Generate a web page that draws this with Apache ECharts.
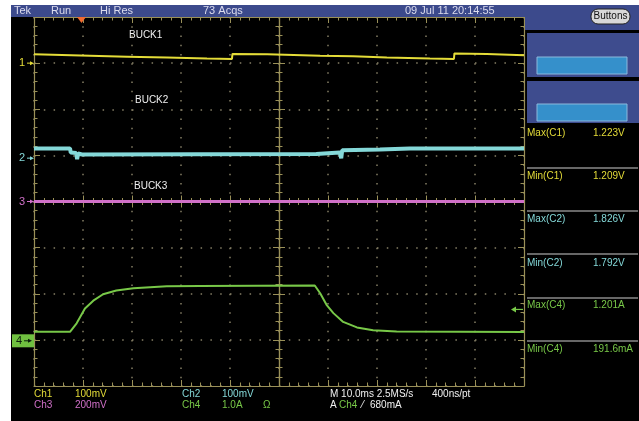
<!DOCTYPE html>
<html><head><meta charset="utf-8">
<script src="https://cdn.jsdelivr.net/npm/echarts@6.0.0/dist/echarts.min.js"></script>
<style>
html,body{margin:0;padding:0;background:#fff;}
#bg{position:absolute;left:11px;top:5px;width:628px;height:416px;background:#000;}
#c{position:absolute;left:0;top:0;width:639px;height:421px;}
</style></head><body>
<div id="bg"></div><div id="c"></div>
<script>
// ---- time base: ms, 10 ms/div, centre = 0
const timeMin = -50, timeMax = 50, timeDiv = 10;
const divMin = -4, divMax = 4;

// ---- channel settings (vertical position in div, offset, units per div)
const ch1Set = {pos: 3.0, offset: 1.2, scale: 0.1};
const ch2Set = {pos: 0.94, offset: 1.8, scale: 0.1};
const ch3Set = {pos: 0.0, offset: 0.0, scale: 0.2};
const ch4Set = {pos: -3.02, offset: 0.0, scale: 1.0};

// ---- Ch1 (BUCK1), volts
const ch1Time = [-50, -31, -22.9, -14.7, -9.6, -9.5, -2.4, 8.4, 15.1, 22.0, 30.8, 35.7, 35.8, 42.4, 50];
const ch1Volt = [1.219, 1.214, 1.212, 1.210, 1.209, 1.220, 1.219, 1.216, 1.215, 1.212, 1.210, 1.209, 1.221, 1.220, 1.217];

// ---- Ch2 (BUCK2), volts
const ch2Time = [-50, -42.65, -42.5, -41.4, -41.2, -41.0, -40.2, 7.6, 7.8, 12.4, 12.7, 12.9, 20.6, 26.7, 50];
const ch2Volt = [1.821, 1.821, 1.812, 1.811, 1.798, 1.810, 1.808, 1.809, 1.812, 1.812, 1.800, 1.817, 1.819, 1.821, 1.821];

// ---- Ch3 (BUCK3), volts relative to offset
const ch3Time = [-50, 50];
const ch3Volt = [0, 0];

// ---- Ch4 (load current), amps
const ch4Time = [-50, -42.65, -41.3, -39.6, -37.9, -35.9, -33.2, -29.7, -26.3, -22.9, -16.1, 7.3, 8.4, 9.7, 11.1, 13.1, 15.9, 19.2, 24.0, 50];
const ch4Amp  = [0.195, 0.195, 0.38, 0.70, 0.87, 1.01, 1.09, 1.14, 1.16, 1.18, 1.19, 1.20, 1.03, 0.78, 0.60, 0.41, 0.29, 0.23, 0.20, 0.192];

// ---- trigger
const triggerTime = -40.3;   // ms
const triggerLevel = 0.68;   // A on Ch4

// ---- texts
const headerTexts = ['Tek', 'Run', 'Hi Res', '73 Acqs', '09 Jul 11 20:14:55'];
const traceLabels = ['BUCK1', 'BUCK2', 'BUCK3'];
const measureLabels = ['Max(C1)', 'Min(C1)', 'Max(C2)', 'Min(C2)', 'Max(C4)', 'Min(C4)'];
const measureValues = ['1.223V', '1.209V', '1.826V', '1.792V', '1.201A', '191.6mA'];
const readRow1 = ['Ch1', '100mV', 'Ch2', '100mV', 'M 10.0ms 2.5MS/s', '400ns/pt'];
const readRow2 = ['Ch3', '200mV', 'Ch4', '1.0A', 'Ω', 'A', 'Ch4', '⁄', '680mA'];

// ---- colours
const C1 = '#e4dc38', C2 = '#84d8d8', C3 = '#d070c8', C4 = '#78c848';
const TAN = '#9a9058', DOT = '#857f66', FONT = 'Liberation Sans';

function toDiv(set, v) { return set.pos + (v - set.offset) / set.scale; }
function pts(t, v, set) { return t.map((x, i) => [x, toDiv(set, v[i])]); }

const chart = echarts.init(document.getElementById('c'), null, {renderer: 'canvas'});

const tickStyle = {show: true, inside: true, length: 6, lineStyle: {color: TAN, width: 1}};
const minorStyle = {show: true, splitNumber: 5, length: 3.5, lineStyle: {color: TAN, width: 1}};
const lineStyle = {show: true, onZero: false, lineStyle: {color: TAN, width: 1.2}};

function xAx(grid, pos, extra) {
  return Object.assign({type: 'value', gridIndex: grid, position: pos, min: timeMin, max: timeMax, interval: timeDiv,
    axisLine: lineStyle, axisTick: tickStyle, minorTick: minorStyle, axisLabel: {show: false}, splitLine: {show: false}}, extra || {});
}
function yAx(grid, pos, extra) {
  return Object.assign({type: 'value', gridIndex: grid, position: pos, min: divMin, max: divMax, interval: 1,
    axisLine: lineStyle, axisTick: tickStyle, minorTick: minorStyle, axisLabel: {show: false}, splitLine: {show: false}}, extra || {});
}

const G = {left: 34, top: 17, width: 490, height: 369};
const option = {
  animation: false,
  backgroundColor: 'transparent',
  grid: [
    {left: G.left, top: G.top, width: G.width, height: G.height},
    {left: G.left, top: G.top, width: G.width, height: G.height / 2},
    {left: G.left, top: G.top + G.height / 2, width: G.width, height: G.height / 2},
    {left: G.left, top: G.top, width: G.width / 2, height: G.height},
    {left: G.left + G.width / 2, top: G.top, width: G.width / 2, height: G.height}
  ],
  xAxis: [
    xAx(0, 'bottom', {splitLine: {show: true, lineStyle: {color: DOT, width: 1.5, type: [1.5, 7.725]}}}),
    xAx(0, 'top'),
    xAx(1, 'bottom'),
    xAx(2, 'top'),
    xAx(3, 'bottom', {show: false, min: timeMin, max: 0}),
    xAx(4, 'bottom', {show: false, min: 0, max: timeMax})
  ],
  yAxis: [
    yAx(0, 'left', {splitLine: {show: true, lineStyle: {color: DOT, width: 1.5, type: [1.5, 8.3]}}}),
    yAx(0, 'right'),
    yAx(1, 'left', {show: false, min: 0, max: divMax}),
    yAx(2, 'left', {show: false, min: divMin, max: 0}),
    yAx(3, 'right'),
    yAx(4, 'left')
  ],
  series: [
    {type: 'line', xAxisIndex: 0, yAxisIndex: 0, data: pts(ch3Time, ch3Volt, ch3Set), showSymbol: false, lineStyle: {color: C3, width: 3}, z: 3},
    {type: 'line', xAxisIndex: 0, yAxisIndex: 0, data: pts(ch1Time, ch1Volt, ch1Set), showSymbol: false, lineStyle: {color: C1, width: 2}, z: 4},
    {type: 'line', xAxisIndex: 0, yAxisIndex: 0, data: pts(ch2Time, ch2Volt, ch2Set), showSymbol: false, lineStyle: {color: C2, width: 4}, z: 4},
    {type: 'line', xAxisIndex: 0, yAxisIndex: 0, data: pts(ch4Time, ch4Amp, ch4Set), showSymbol: false, lineStyle: {color: C4, width: 2}, z: 5}
  ]
};
chart.setOption(option);

function px(t, d) { return chart.convertToPixel({gridIndex: 0}, [t, d]); }
function txt(x, y, s, color, size, align) {
  return {type: 'text', x: x, y: y, silent: true, z: 100,
    style: {text: s, fill: color, font: (size || 10) + 'px "' + FONT + '"', textAlign: align || 'left', textVerticalAlign: 'middle'}};
}
function rect(x, y, w, h, fill, stroke, r) {
  return {type: 'rect', shape: {x: x, y: y, width: w, height: h, r: r || 0}, silent: true, z: 90,
    style: {fill: fill, stroke: stroke || null, lineWidth: stroke ? 1 : 0}};
}
function chMarker(label, color, d) {
  const y = px(0, d)[1];
  return [
    txt(22, y, label, color, 11, 'center'),
    {type: 'line', shape: {x1: 27, y1: y, x2: 32, y2: y}, style: {stroke: color, lineWidth: 1}, z: 100, silent: true},
    {type: 'polygon', shape: {points: [[30, y - 2], [34, y], [30, y + 2]]}, style: {fill: color}, z: 100, silent: true}
  ];
}

const g = [];
// header bar and right panel
g.push(rect(11, 5, 516, 12, '#3c4a8c'));
g.push(rect(525, 5, 114, 25, '#3c4a8c'));
g.push(rect(527, 33, 112, 44, '#3e4c8e'));
g.push(rect(537, 57, 90, 17, '#3590cb', '#8cb8dc'));
g.push(rect(527, 81, 112, 42, '#3e4c8e'));
g.push(rect(537, 104, 90, 17, '#3590cb', '#8cb8dc'));
g.push(rect(591, 9, 39, 15, '#d8d8d8', '#222', 7));
g.push(txt(610.5, 16.5, 'Buttons', '#111', 10, 'center'));
const headerX = [14, 51, 100, 203, 405];
headerTexts.forEach((s, i) => g.push(txt(headerX[i], 11, s, '#dcdcee', 11)));

// trace labels
const traceLabelPos = [[129, 35], [135, 100], [134, 186]];
traceLabels.forEach((s, i) => g.push(txt(traceLabelPos[i][0], traceLabelPos[i][1], s, '#f0f0f0', 10)));

// measurements
const measColors = [C1, C1, C2, C2, C4, C4];
const measY = [133, 176, 219, 263, 305, 349];
measureLabels.forEach((s, i) => {
  g.push(txt(527, measY[i], s, measColors[i], 10));
  g.push(txt(593, measY[i], measureValues[i], measColors[i], 10));
});
[168, 211, 254, 298, 341].forEach(y => g.push({type: 'line', shape: {x1: 527, y1: y, x2: 638, y2: y}, style: {stroke: '#8a8a8a', lineWidth: 1.5}, z: 90, silent: true}));

// bottom readouts
const r1x = [34, 75, 182, 222, 330, 432];
const r1c = [C1, C1, C2, C2, '#f0f0f0', '#f0f0f0'];
readRow1.forEach((s, i) => g.push(txt(r1x[i], 394, s, r1c[i], 10)));
const r2x = [34, 75, 182, 222, 263, 330, 339, 362, 370];
const r2c = [C3, C3, C4, C4, C4, '#f0f0f0', C4, '#f0f0f0', '#f0f0f0'];
readRow2.forEach((s, i) => g.push(txt(r2x[i], 405, s, r2c[i], 10)));

// channel markers
chMarker('1', C1, ch1Set.pos).forEach(e => g.push(e));
chMarker('2', C2, ch2Set.pos).forEach(e => g.push(e));
chMarker('3', C3, ch3Set.pos).forEach(e => g.push(e));
const y4 = px(0, ch4Set.pos)[1];
g.push(rect(12, y4 - 6.5, 22, 13, '#70c040'));
g.push(txt(19, y4, '4', '#0c200c', 11, 'center'));
g.push({type: 'line', shape: {x1: 24, y1: y4, x2: 30, y2: y4}, style: {stroke: '#0c200c', lineWidth: 1}, z: 100, silent: true});
g.push({type: 'polygon', shape: {points: [[28, y4 - 2], [32, y4], [28, y4 + 2]]}, style: {fill: '#0c200c'}, z: 100, silent: true});

// trigger position and level
const tx = px(triggerTime, 0)[0];
g.push({type: 'polygon', shape: {points: [[tx - 4.5, 17], [tx + 4.5, 17], [tx, 23]]}, style: {fill: '#f06a30'}, z: 100, silent: true});
const ty = px(0, toDiv(ch4Set, triggerLevel))[1];
g.push({type: 'line', shape: {x1: 515, y1: ty, x2: 523, y2: ty}, style: {stroke: C4, lineWidth: 1.2}, z: 100, silent: true});
g.push({type: 'polygon', shape: {points: [[516, ty - 3], [511, ty], [516, ty + 3]]}, style: {fill: C4}, z: 100, silent: true});

chart.setOption({graphic: g});
</script></body></html>
